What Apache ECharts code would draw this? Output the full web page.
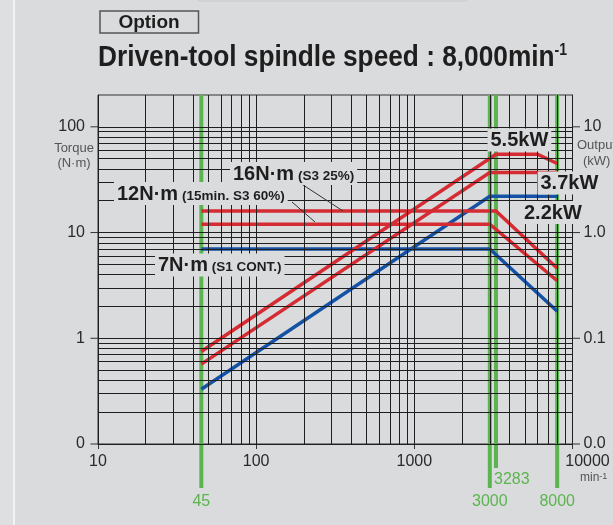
<!DOCTYPE html>
<html><head><meta charset="utf-8">
<script src="https://cdn.jsdelivr.net/npm/echarts@6/dist/echarts.min.js"></script>
<style>html,body{margin:0;padding:0;background:#dadbdd;}#c{width:613px;height:525px;}</style>
</head><body><div id="c"></div>
<script>
// ---- data ----
const speedTicks = [10, 100, 1000, 10000];
const speedTickLabels = ['10', '100', '1000', '10000'];
const torqueTicks = [0.1, 1, 10, 100];
const torqueTickLabels = ['0', '1', '10', '100'];
const outputTicks = [0.01, 0.1, 1, 10];
const outputTickLabels = ['0.0', '0.1', '1.0', '10'];
const markerSpeeds = [45, 3000, 3283, 8000];
const markerLabels = ['45', '3000', '3283', '8000'];
const gridMultipliers = [1, 2, 3, 4, 5, 6, 7, 8, 9];

// torque curves (N·m) vs speed (min-1)
const torque16 = [[45, 16], [3283, 16], [8000, 4.6]];
const torque12 = [[45, 12], [3000, 12], [8000, 3.5]];
const torque7 = [[45, 7], [3000, 7], [8000, 1.8]];
// output curves (kW) vs speed (min-1)
const output55 = [[45, 0.075], [3283, 5.5], [6000, 5.5], [8000, 4.5]];
const output37 = [[45, 0.057], [3000, 3.7], [8000, 3.7]];
const output22 = [[45, 0.033], [3000, 2.2], [8000, 2.2]];

// ---- setup ----
const X_MIN = 10, X_MAX = 10000, T_MIN = 0.1, T_MAX = 200, P_MIN = 0.01, P_MAX = 20;
const FONT = '"Liberation Sans", Arial, sans-serif';
const GREEN = '#5bb44f', RED = '#d52b33', BLUE = '#1552a5', BG = '#dadbdd', INK = '#1e1e1e';
const raisedMarker = new Set(['3283']);

function near(a, b) { return Math.abs(Math.log10(a) - Math.log10(b)) < 1e-6; }
function fmt(values, labels) {
  return v => { const i = values.findIndex(t => near(t, v)); return i < 0 ? '' : labels[i]; };
}
const xGrid = []; [10, 100, 1000].forEach(d => gridMultipliers.forEach(m => xGrid.push(d * m))); xGrid.push(10000);
const yGrid = []; [0.1, 1, 10].forEach(d => gridMultipliers.forEach(m => yGrid.push(d * m))); yGrid.push(100);

function curve(data, color, yIdx) {
  return { type: 'line', data, yAxisIndex: yIdx, showSymbol: false, symbol: 'none', clip: false, z: 4,
    silent: true, animation: false, lineStyle: { color, width: 3.5, join: 'miter', cap: 'butt' } };
}
function tickSeries(values, yIdx, xAt, dir) {
  return { type: 'custom', coordinateSystem: 'cartesian2d', yAxisIndex: yIdx, silent: true, clip: false, z: 3,
    animation: false, data: values.map(v => [xAt, v]),
    renderItem: (p, api) => {
      const pt = api.coord([api.value(0), api.value(1)]);
      return { type: 'line', shape: { x1: pt[0], y1: pt[1], x2: pt[0] + dir * 7.5, y2: pt[1] },
        style: { stroke: '#333', lineWidth: 1 } };
    } };
}

const chart = echarts.init(document.getElementById('c'), null, { renderer: 'canvas' });

function annot(x, y, big, small) {
  return { type: 'text', z: 50, style: {
    x, y, align: 'left', verticalAlign: 'middle',
    text: small ? '{b|' + big + '}{s| ' + small + '}' : '{b|' + big + '}',
    backgroundColor: BG, padding: [2, 3, 1, 3],
    rich: {
      b: { font: 'bold 20px ' + FONT, fill: INK, verticalAlign: 'middle' },
      s: { font: 'bold 13.5px ' + FONT, fill: INK, verticalAlign: 'middle', padding: [4, 0, 0, 0] }
    } } };
}

const option = {
  backgroundColor: BG,
  animation: false,
  grid: { left: 98, top: 95, width: 474.5, height: 349, show: true, borderColor: '#333', borderWidth: 1, backgroundColor: 'transparent' },
  xAxis: {
    type: 'log', logBase: 10, min: X_MIN, max: X_MAX,
    axisLine: { show: true, lineStyle: { color: '#333', width: 1 } },
    axisTick: { show: true, length: 5, lineStyle: { color: '#333' } },
    splitLine: { show: false },
    axisLabel: {
      margin: 10, color: '#2a2a2a', fontSize: 16, fontFamily: FONT,
      formatter: v => { const s = fmt(speedTicks, speedTickLabels)(v); return s === '10000' ? '{m|10000}' : s; },
      rich: { m: { fontSize: 16, fontFamily: FONT, color: '#2a2a2a', padding: [0, 0, 0, 30] } }
    }
  },
  yAxis: [
    { type: 'log', logBase: 10, min: T_MIN, max: T_MAX, position: 'left',
      axisLine: { show: true, lineStyle: { color: '#333' } }, axisTick: { show: false }, splitLine: { show: false },
      axisLabel: { margin: 13, color: '#2a2a2a', fontSize: 16, fontFamily: FONT, showMaxLabel: false,
        formatter: fmt(torqueTicks, torqueTickLabels) } },
    { type: 'log', logBase: 10, min: P_MIN, max: P_MAX, position: 'right',
      axisLine: { show: true, lineStyle: { color: '#333' } }, axisTick: { show: false }, splitLine: { show: false },
      axisLabel: { margin: 11, color: '#2a2a2a', fontSize: 16, fontFamily: FONT, showMaxLabel: false,
        formatter: fmt(outputTicks, outputTickLabels) } }
  ],
  series: [
    { type: 'line', data: [[X_MIN, T_MIN]], symbol: 'none', lineStyle: { opacity: 0 }, silent: true, z: 1,
      markLine: { silent: true, symbol: ['none', 'none'], animation: false, label: { show: false },
        emphasis: { disabled: true },
        lineStyle: { color: '#1f1f1f', width: 1, type: 'solid' },
        data: xGrid.map(v => ({ xAxis: v })).concat(yGrid.map(v => ({ yAxis: v }))) } },
    { type: 'custom', coordinateSystem: 'cartesian2d', silent: true, clip: false, z: 2, animation: false,
      data: markerSpeeds.map((v, i) => [v, T_MAX, i]),
      renderItem: (p, api) => {
        const i = api.value(2), x = api.value(0);
        const top = api.coord([x, T_MAX]), bot = api.coord([x, T_MIN]);
        const raised = raisedMarker.has(markerLabels[i]);
        return { type: 'group', children: [
          { type: 'line', shape: { x1: top[0], y1: top[1], x2: top[0], y2: bot[1] + (raised ? 24 : 44) },
            style: { stroke: GREEN, lineWidth: 4 } },
          { type: 'text', style: { text: markerLabels[i], x: raised ? top[0] - 2 : top[0], y: bot[1] + (raised ? 36 : 58),
            align: raised ? 'left' : 'center', verticalAlign: 'middle', fill: GREEN, font: '16px ' + FONT } }
        ] };
      } },
    tickSeries(torqueTicks, 0, X_MIN, -1),
    tickSeries(outputTicks, 1, X_MAX, 1),
    curve(output22, BLUE, 1),
    curve(torque7, BLUE, 0),
    curve(output37, RED, 1),
    curve(output55, RED, 1),
    curve(torque12, RED, 0),
    curve(torque16, RED, 0)
  ],
  graphic: [
    { type: 'rect', z: 0, shape: { x: 0, y: 0, width: 13, height: 525 }, style: { fill: '#dedfe1' } },
    { type: 'line', z: 0, shape: { x1: 14, y1: 0, x2: 14, y2: 525 }, style: { stroke: '#f3f3f3', lineWidth: 2 } },
    { type: 'rect', z: 0, shape: { x: 195, y: -12, width: 275, height: 13, r: 6 }, style: { fill: 'transparent', stroke: '#c9cacc', lineWidth: 1 } },
    { type: 'rect', z: 1, shape: { x: 100, y: 11, width: 98.5, height: 22 }, style: { fill: 'transparent', stroke: '#555', lineWidth: 1.5 } },
    { type: 'text', z: 1, style: { text: 'Option', x: 149, y: 22.5, align: 'center', verticalAlign: 'middle', font: 'bold 19px ' + FONT, fill: INK } },
    { type: 'text', z: 1, x: 98, y: 58, scaleX: 0.875, style: { x: 0, y: 0, align: 'left', verticalAlign: 'middle',
      text: '{a|Driven-tool spindle speed : 8,000min}{s|-1}',
      rich: { a: { font: 'bold 30px ' + FONT, fill: INK }, s: { font: 'bold 16px ' + FONT, fill: INK, verticalAlign: 'top' } } } },
    { type: 'text', z: 1, style: { text: 'Torque', x: 74, y: 148, align: 'center', verticalAlign: 'middle', font: '13px ' + FONT, fill: '#555' } },
    { type: 'text', z: 1, style: { text: '(N·m)', x: 74, y: 163, align: 'center', verticalAlign: 'middle', font: '13px ' + FONT, fill: '#555' } },
    { type: 'text', z: 1, style: { text: 'Output', x: 577, y: 145, align: 'left', verticalAlign: 'middle', font: '13px ' + FONT, fill: '#555' } },
    { type: 'text', z: 1, style: { text: '(kW)', x: 583, y: 161, align: 'left', verticalAlign: 'middle', font: '13px ' + FONT, fill: '#555' } },
    { type: 'text', z: 1, style: { text: '{m|min}{s|-1}', x: 580, y: 478, align: 'left', verticalAlign: 'middle',
      rich: { m: { font: '12px ' + FONT, fill: '#555' }, s: { font: '9px ' + FONT, fill: '#555', verticalAlign: 'top' } } } },
    { type: 'line', z: 49, shape: { x1: 297, y1: 181, x2: 343, y2: 211 }, style: { stroke: '#333', lineWidth: 1 } },
    { type: 'line', z: 49, shape: { x1: 292, y1: 202, x2: 315, y2: 222 }, style: { stroke: '#333', lineWidth: 1 } },
    annot(230, 173.5, '16N·m', '(S3 25%)'),
    annot(114, 193.5, '12N·m', '(15min. S3 60%)'),
    annot(155, 265, '7N·m', '(S1 CONT.)'),
    annot(487.5, 140, '5.5kW'),
    annot(537.5, 183, '3.7kW'),
    annot(521, 212.5, '2.2kW')
  ]
};
chart.setOption(option);
</script></body></html>
